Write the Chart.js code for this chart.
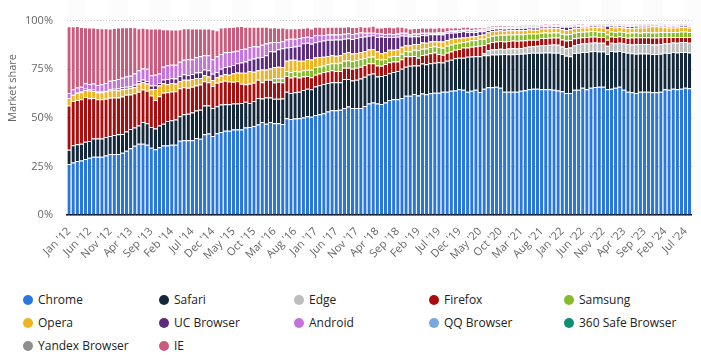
<!DOCTYPE html>
<html><head><meta charset="utf-8">
<script src="https://cdn.jsdelivr.net/npm/chart.js@4.4.1/dist/chart.umd.min.js"></script>
<style>
html,body{margin:0;padding:0;background:#fff;}
#wrap{position:relative;width:701px;height:357px;overflow:hidden;}
#c{position:absolute;left:0;top:0;}
.lg{position:absolute;font-family:'Open Sans',sans-serif;font-size:12px;color:#222;white-space:nowrap;line-height:16px;}
.lg i{position:absolute;left:-15px;top:3px;width:10px;height:10px;border-radius:50%;}
</style></head>
<body><div id="wrap"><canvas id="c" width="701" height="285"></canvas><div id="legend"></div></div>
<script>
const monthNames = ['Jan','Feb','Mar','Apr','May','Jun','Jul','Aug','Sep','Oct','Nov','Dec'];
const firstYear = 2012, monthCount = 152;
const categories = [];
for (let y = firstYear; categories.length < monthCount; y++) {
  for (let m = 0; m < 12 && categories.length < monthCount; m++) categories.push(monthNames[m] + " '" + String(y).slice(2));
}
const labelEvery = 5;
const yTicks = [0, 25, 50, 75, 100];

const chrome = [
26.2,27.0,27.8,28.0,28.8,29.4,29.9,29.9,29.9,30.6,
31.4,31.4,31.4,32.0,33.0,34.3,35.6,36.6,36.6,36.2,
34.6,33.8,34.8,35.8,35.8,36.2,36.2,38.2,38.5,38.5,
38.5,39.6,39.2,41.6,41.9,40.6,42.1,42.7,43.4,43.4,
44.0,44.0,44.0,45.0,45.3,45.8,46.6,47.9,46.9,47.9,
47.2,47.2,46.8,49.8,49.4,49.7,49.8,50.2,50.8,50.5,
51.5,51.8,52.4,53.2,53.9,53.9,54.2,55.0,55.8,55.0,
55.0,55.0,56.1,57.4,57.9,57.3,57.1,57.9,59.1,59.5,
59.5,60.2,61.3,61.3,62.3,61.5,62.5,62.1,62.6,62.9,
62.9,63.4,63.4,63.9,64.1,64.7,64.4,63.4,63.9,64.4,
63.3,65.0,65.7,65.7,66.0,65.4,63.4,63.4,63.4,63.4,
63.9,64.2,64.7,65.0,65.0,64.7,64.7,64.7,64.4,64.1,
63.7,62.8,62.8,64.4,64.4,65.4,64.7,65.4,65.9,66.0,
66.0,64.7,65.0,65.5,66.0,64.4,63.4,63.1,62.8,63.4,
63.4,63.4,63.1,63.1,63.4,64.7,64.4,65.0,64.7,65.0,
65.4,65.2];
const safari = [
7.4,8.9,8.6,8.7,8.9,8.7,9.4,9.4,9.5,9.5,
9.2,9.7,10.2,9.7,10.0,9.9,9.4,9.5,11.2,11.0,
10.7,10.7,11.3,11.2,12.5,12.6,12.9,12.6,13.3,13.6,
14.2,14.2,15.0,14.7,14.4,14.4,13.9,14.2,13.6,13.6,
13.3,13.3,13.6,13.3,12.3,12.8,13.6,12.0,13.6,12.6,
12.6,12.6,13.1,13.6,13.4,13.4,13.6,14.1,14.2,14.2,
14.6,14.9,15.0,14.7,14.4,14.4,14.1,14.9,14.1,14.2,
14.6,15.2,15.0,14.9,14.9,13.9,14.4,14.1,13.8,14.1,
14.6,15.0,15.0,15.5,14.6,15.4,15.4,15.5,15.4,15.4,
15.7,15.0,15.9,16.0,16.5,16.2,16.5,18.0,17.6,17.2,
18.3,17.2,16.5,16.8,16.5,17.3,19.4,19.3,19.3,19.4,
19.1,18.9,18.6,18.4,18.4,18.8,18.9,18.9,19.1,19.3,
19.1,19.1,18.9,18.9,19.1,18.4,19.1,18.8,18.4,18.1,
18.1,18.1,19.4,18.6,18.4,19.4,20.1,20.1,20.1,19.7,
19.7,19.7,19.7,19.7,19.6,18.8,18.9,18.8,18.9,18.8,
18.4,18.4];
const edge = [
0,0,0,0,0,0,0,0,0,0, 0,0,0,0,0,0,0,0,0,0,
0,0,0,0,0,0,0,0,0,0, 0,0,0,0,0,0,0,0,0,0,
0,0,0,0,0,0,0,0,0,0, 0,0,0,0,0,0,0,0,0,0,
0,0,0,0,0,0,0,0,0,0, 0,0,0,0,0,0,0,0,0,0,
0,0,0,0,0,0,0,0,0,0, 0,0,0,0,0,0,0,0,0,0,
0,1.0,2.6,2.6,2.8,2.8,2.6,2.9,3.1,2.9,
2.9,3.2,3.4,3.4,3.6,3.9,3.9,4.0,4.2,4.2,
3.9,3.9,4.4,4.0,4.5,4.4,4.5,4.4,4.4,4.5,
4.5,4.2,4.2,4.2,4.2,4.5,4.5,4.5,4.9,4.9,
4.9,4.9,4.9,4.9,5.0,4.9,5.0,4.9,5.0,5.2,
5.2,5.0];
const firefox = [
22.7,22.7,22.7,22.8,23.0,22.0,20.9,20.2,20.1,19.7,
19.7,19.4,18.9,19.3,18.8,17.8,17.6,17.3,16.7,16.7,
16.2,14.6,15.0,15.9,14.9,14.7,14.6,14.4,13.9,13.3,
13.3,12.8,12.9,12.5,12.0,11.3,12.0,11.7,12.1,11.7,
11.2,11.5,9.9,8.9,9.9,9.4,9.4,8.4,9.1,9.1,
8.4,8.7,8.4,8.1,7.9,8.1,7.3,7.0,6.5,6.2,
6.0,6.1,6.1,6.1,6.1,5.8,5.8,5.8,5.8,6.0,
6.1,6.1,6.1,5.7,5.3,5.7,5.3,5.7,5.7,5.3,
4.9,4.9,5.3,4.9,4.9,4.0,4.4,4.9,5.2,5.3,
4.2,4.0,4.2,4.2,4.4,4.5,5.2,4.7,5.0,5.2,
5.5,4.2,3.6,3.9,4.0,4.0,3.9,3.9,3.9,3.9,
3.9,3.6,3.4,3.4,3.2,3.6,3.6,3.6,3.6,3.7,
3.6,3.9,3.9,3.6,3.2,3.2,3.2,3.1,3.1,2.9,
2.9,3.2,3.2,3.2,3.2,3.2,3.2,3.6,3.6,3.4,
3.4,3.4,3.6,3.6,3.4,3.2,3.2,2.9,2.9,2.6,
2.6,2.9];
const samsung = [
0,0,0,0,0,0,0,0,0,0, 0,0,0,0,0,0,0,0,0,0,
0,0,0,0,0,0,0,0,0,0, 0,0,0,0,0,0,0,0,0,0,
0,0,0,0,0,0,0,0,0,0,
2.1,1.8,2.1,2.6,2.8,2.9,3.1,3.2,3.2,3.8,
4.0,3.6,3.4,3.6,3.6,3.9,4.2,3.6,3.9,4.0,
4.0,3.9,3.6,3.4,3.4,3.4,3.2,2.4,2.8,2.9,
2.8,2.8,2.8,2.4,3.2,4.0,3.2,3.2,3.2,3.2,
3.6,3.6,3.6,3.6,3.2,3.2,2.9,3.2,3.4,3.2,
3.6,3.2,3.2,3.2,3.2,3.2,3.4,3.4,3.2,3.4,
3.2,3.2,3.2,3.2,3.2,2.8,2.8,2.6,2.6,2.6,
2.9,3.2,3.1,2.9,2.9,2.9,2.9,2.9,2.8,2.8,
2.6,2.8,2.6,2.6,2.6,2.6,2.6,2.6,2.6,2.4,
2.6,2.6,2.6,2.6,2.8,2.6,2.6,2.6,2.6,2.8,
2.8,2.6];
const opera = [
3.9,3.2,3.6,3.6,3.6,3.9,3.6,3.6,3.6,3.9,
3.7,3.9,3.6,3.7,3.2,3.4,3.1,4.2,3.9,3.7,
3.2,5.7,5.5,4.9,4.2,4.4,3.9,3.7,3.9,4.2,
3.9,3.9,3.4,3.1,2.9,3.2,2.8,3.2,3.4,3.4,
4.4,4.5,5.7,6.0,6.6,5.7,4.9,6.5,5.2,5.7,
5.7,6.0,5.7,5.2,6.3,5.8,5.5,4.9,5.5,5.3,
4.9,4.9,4.5,4.2,4.2,3.9,3.9,4.0,4.2,3.9,
3.6,3.6,3.6,3.7,3.9,3.9,3.2,3.6,3.6,3.2,
3.4,3.7,2.9,3.2,2.9,3.1,3.2,2.9,2.9,2.6,
2.9,3.2,2.9,2.9,2.8,2.6,2.3,2.3,1.9,1.9,
1.9,2.3,2.3,2.4,2.3,2.3,2.1,2.1,2.1,2.1,
2.1,2.1,2.1,1.9,1.9,2.1,2.1,2.3,2.3,2.3,
2.3,2.3,2.4,2.3,2.1,2.1,2.1,2.1,2.1,2.3,
2.3,2.4,2.3,2.4,2.3,2.3,2.4,2.3,2.3,2.6,
2.4,2.8,3.2,3.2,2.8,2.4,2.3,2.3,2.3,2.3,
2.3,2.3];
const ucBrowser = [
0,0.5,0.5,0.6,0.6,0.6,0.6,0.6,0.6,0.6,
0.6,0.6,1.0,1.0,1.0,1.0,1.3,1.3,1.3,1.3,
1.9,1.9,1.3,1.9,2.6,2.4,2.6,2.6,2.8,2.4,
2.6,2.8,2.9,2.9,3.2,3.2,2.8,3.4,3.6,4.4,
4.2,4.7,5.2,5.7,5.7,6.8,6.5,6.5,7.4,8.9,
8.1,8.9,9.7,6.8,6.6,6.8,7.8,8.9,8.4,8.1,
7.8,8.1,8.3,8.3,7.9,8.4,8.1,7.3,7.1,7.4,
7.8,7.8,7.4,7.1,7.1,7.4,8.6,7.8,6.6,6.5,
6.5,5.7,4.9,4.5,4.0,3.9,3.9,3.9,3.7,3.6,
3.7,3.7,3.6,3.2,2.9,2.9,3.2,2.6,2.3,2.3,
1.9,1.6,1.3,1.1,1.1,1.1,1.1,1.1,1.1,1.1,
1.1,1.1,1.1,1.1,1.1,1.0,1.0,0.8,0.8,0.8,
1.3,1.6,1.3,0.8,0.8,0.6,0.5,0.6,0.6,0.6,
0.8,1.9,0.6,0.6,0.6,0.8,0.8,1.0,1.0,0.8,
0.8,0.5,0.3,0.3,0.5,0.6,0.6,0.6,0.6,0.5,
0.5,0.6];
const android = [
2.6,2.4,2.4,2.3,2.9,2.8,3.2,3.2,3.6,3.6,
4.4,4.5,4.9,4.9,5.2,5.2,5.8,5.5,5.7,6.3,
5.3,5.5,4.9,6.5,7.0,7.0,7.1,7.3,7.4,8.1,
7.6,7.9,8.3,7.4,7.8,7.4,8.0,7.6,7.6,7.4,
7.0,6.5,7.0,6.6,6.6,6.3,5.7,6.3,6.0,4.5,
4.9,3.7,3.6,4.2,4.2,3.9,3.9,3.1,3.1,3.2,
3.6,3.2,2.9,2.8,2.8,2.6,2.6,2.6,2.6,2.6,
2.4,2.3,1.9,1.6,1.3,1.9,1.6,1.6,1.6,1.5,
1.5,1.3,1.3,1.1,1.3,1.3,1.0,1.0,0.5,0.5,
0.5,0.5,0.6,0.6,0.6,0.6,0.3,0.6,0.6,0.6,
0.6,0.5,0.4,0.4,0.3,0.3,0.3,0.3,0.3,0.3,
0.4,0.4,0.3,0.3,0.3,0.3,0.3,0.3,0.3,0.3,
0.3,0.3,0.3,0.3,0.3,0.3,0.4,0.4,0.4,0.4,
0.3,0.3,0.4,0.3,0.4,0.3,0.3,0.3,0.3,0.3,
0.3,0.3,0.3,0.3,0.3,0.3,0.3,0.3,0.3,0.3,
0.3,0.3];
const qqBrowser = [
0,0,0,0,0,0,0,0,0,0, 0,0,0,0,0,0,0,0,0,0,
0,0,0,0,0,0,0,0,0,0, 0,0,0,0,0,0,0,0,0,0,
0,0,0,0,0,0,0,0,0,0, 0,0,0,0,0,0,0,0,0,0,
0,0,0,0,0,0,0,0,0,0, 0,0,0,0,0,0,0,0,0,0,
0.1,0.1,0.1,0.1,0.1,0.1,0.1,0.1,0.1,0.1,
0.2,0.2,0.2,0.2,0.2,0.2,0.2,0.2,0.2,0.2,
0.2,0.2,0.2,0.2,0.2,0.2,0.2,0.2,0.2,0.2,
0.2,0.2,0.2,0.2,0.2,0.2,0.2,0.2,0.2,0.2,
0.2,0.2,0.2,0.2,0.2,0.2,0.2,0.2,0.2,0.2,
0.2,0.2,0.2,0.2,0.2,0.2,0.2,0.2,0.2,0.2,
0.2,0.2,0.2,0.2,0.2,0.2,0.2,0.2,0.2,0.2,
0.2,0.2];
const safe360 = [
0,0,0,0,0,0,0,0,0,0, 0,0,0,0,0,0,0,0,0,0,
0,0,0,0,0,0,0,0,0,0, 0,0,0,0,0,0,0,0,0,0,
0,0,0,0,0,0,0,0,0,0, 0,0,0,0,0,0,0,0,0,0,
0,0,0,0,0,0,0,0,0,0, 0,0,0,0,0,0,0,0,0,0,
0.1,0.1,0.1,0.1,0.1,0.1,0.1,0.1,0.1,0.1,
0.1,0.1,0.1,0.1,0.1,0.1,0.1,0.1,0.1,0.1,
0.1,0.1,0.1,0.1,0.1,0.1,0.1,0.1,0.1,0.1,
0.1,0.1,0.1,0.1,0.1,0.1,0.1,0.1,0.1,0.1,
0.1,0.1,0.1,0.1,0.1,0.1,0.1,0.1,0.1,0.1,
0.1,0.1,0.1,0.1,0.1,0.1,0.1,0.1,0.1,0.1,
0.1,0.1,0.1,0.1,0.1,0.1,0.1,0.1,0.1,0.1,
0.1,0.1];
const yandex = [
0,0,0,0,0,0,0,0,0,0, 0,0,0,0,0,0,0,0,0,0,
0,0,0,0,0,0,0,0,0,0, 0,0,0,0,0,0,0,0,0,0,
0,0,0,0,0,0,0,0,0,0, 0,0,0,0,0,0,0,0,0,0,
0,0,0,0,0,0,0,0,0,0, 0,0,0,0,0,0,0,0,0,0,
0,0,0,0,0,0,0,0,0,0,
0.2,0.2,0.2,0.2,0.2,0.2,0.2,0.2,0.2,0.2,
0.2,0.2,0.2,0.2,0.2,0.2,0.2,0.2,0.2,0.2,
0.2,0.2,0.2,0.2,0.2,0.2,0.2,0.2,0.2,0.2,
0.2,0.2,0.2,0.2,0.2,0.2,0.2,0.2,0.2,0.2,
0.2,0.2,0.2,0.2,0.2,0.2,0.2,0.2,0.2,0.2,
0.2,0.2,0.2,0.2,0.2,0.2,0.2,0.2,0.2,0.2,
0.2,0.2];
const ie = [
34.3,32.4,31.6,30.7,28.8,29.0,28.8,29.3,28.8,28.2,
27.0,26.7,26.4,26.0,25.4,25.1,23.8,21.7,20.9,20.9,
24.1,23.8,23.1,19.4,18.6,18.1,18.1,16.7,16.3,16.0,
15.9,14.7,14.2,13.8,13.8,15.5,13.4,13.6,12.9,12.8,
12.8,12.6,11.8,11.3,10.4,10.0,10.2,9.2,8.6,7.8,
7.6,7.4,7.1,5.8,5.5,5.5,5.2,4.9,4.9,4.7,
4.4,4.2,4.0,3.9,3.9,3.9,3.9,3.6,3.6,3.6,
3.2,3.2,3.2,3.2,3.6,2.9,3.1,3.6,3.6,3.6,
3.6,3.1,2.8,2.9,2.8,2.8,2.6,2.6,2.8,2.6,
2.6,2.6,1.9,1.6,1.6,1.1,1.5,1.5,1.3,1.3,
1.0,1.0,0.8,0.8,0.6,0.6,0.5,0.5,0.4,0.4,
0.4,0.4,0.4,0.4,0.4,0.3,0.3,0.3,0.3,0.3,
0.3,0.3,0.3,0.3,0.3,0.3,0.2,0.2,0.2,0.2,
0.2,0.2,0.2,0.2,0.2,0.2,0.2,0.2,0.2,0.2,
0.2,0.2,0.2,0.2,0.2,0.2,0.2,0.2,0.2,0.2,
0.2,0.2];

const seriesNames = ['Chrome','Safari','Edge','Firefox','Samsung','Opera','UC Browser','Android','QQ Browser','360 Safe Browser','Yandex Browser','IE'];
const seriesData = [chrome, safari, edge, firefox, samsung, opera, ucBrowser, android, qqBrowser, safe360, yandex, ie];
const seriesColors = ['#2a77dc','#14283c','#bdbdbd','#a80e0e','#86bb2b','#efb424','#5c2a7c','#c473dc','#7aa6e1','#0d8f74','#8f8f8f','#cb5b7c'];

const FONT = "'Open Sans', sans-serif";

const bands = {
  id: 'bands',
  beforeDraw(chart) {
    const xs = chart.scales.x, a = chart.chartArea, c = chart.ctx;
    const step = xs.getPixelForValue(1) - xs.getPixelForValue(0);
    c.save();
    c.fillStyle = 'rgba(0,0,0,0.013)';
    for (let k = 0; k < categories.length; k += 2 * labelEvery) {
      const x0 = xs.getPixelForValue(k) - step / 2;
      c.fillRect(x0, 0, step * labelEvery, a.bottom);
    }
    c.restore();
  }
};
const yTitle = {
  id: 'yTitle',
  afterDraw(chart) {
    const c = chart.ctx;
    c.save();
    c.translate(13, 88);
    c.rotate(-Math.PI / 2);
    c.font = "11px " + FONT;
    c.fillStyle = '#666';
    c.textAlign = 'center';
    c.textBaseline = 'middle';
    c.fillText('Market share', 0, 0);
    c.restore();
  }
};

new Chart(document.getElementById('c'), {
  type: 'bar',
  data: {
    labels: categories,
    datasets: seriesNames.map((n, i) => ({
      label: n,
      data: seriesData[i],
      backgroundColor: seriesColors[i],
      borderColor: '#ffffff',
      borderWidth: {top: 1, right: 0, bottom: 0, left: 0},
      borderSkipped: 'start',
      barPercentage: 0.8,
      categoryPercentage: 1.0
    }))
  },
  options: {
    responsive: false,
    animation: false,
    devicePixelRatio: 1,
    layout: { padding: { top: 9, right: 8, left: 0, bottom: 0 } },
    plugins: { legend: { display: false }, tooltip: { enabled: false } },
    scales: {
      x: {
        stacked: true,
        z: 1,
        grid: { display: false },
        border: { display: true, color: '#111', width: 1.5 },
        ticks: {
          autoSkip: false, maxRotation: 45, minRotation: 45, padding: 2,
          color: '#666', font: { family: FONT, size: 11 },
          callback: (v, i) => (i % labelEvery === 0 ? categories[i] : '')
        },
        afterFit: s => { s.height = 70; }
      },
      y: {
        stacked: true, min: 0, max: 100,
        afterBuildTicks: s => { s.ticks = yTicks.map(v => ({ value: v })); },
        ticks: { padding: 14, color: '#666', font: { family: FONT, size: 11 }, callback: v => v + '%' },
        grid: { color: '#c8c8c8', drawTicks: false, lineWidth: 1 },
        border: { display: false, dash: [1, 2] },
        afterFit: s => { s.width = 67; }
      }
    }
  },
  plugins: [bands, yTitle]
});

const legendPos = { colX: [23, 159, 294, 429, 564], rowY: [300, 323, 346] };
const lg = document.getElementById('legend');
seriesNames.forEach((n, i) => {
  const col = i % 5, row = Math.floor(i / 5);
  const d = document.createElement('div');
  d.className = 'lg';
  d.style.left = (legendPos.colX[col] + 15) + 'px';
  d.style.top = (legendPos.rowY[row] - 8) + 'px';
  const dot = document.createElement('i');
  dot.style.background = seriesColors[i];
  d.appendChild(dot);
  d.appendChild(document.createTextNode(n));
  lg.appendChild(d);
});
</script>
</body></html>
